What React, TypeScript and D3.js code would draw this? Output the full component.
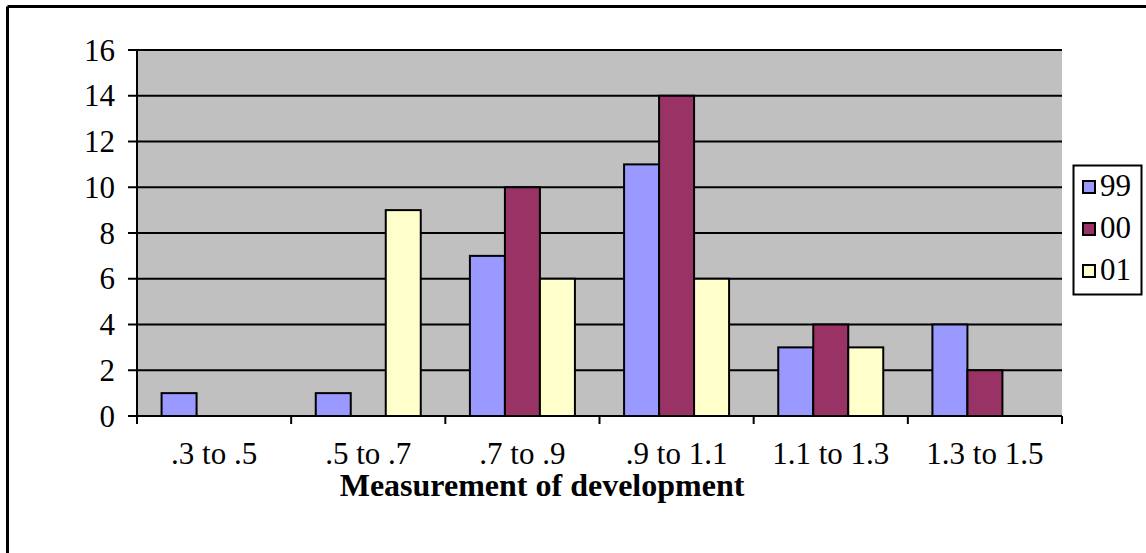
import React from "react";
import * as d3 from "d3";

const categories = [".3 to .5", ".5 to .7", ".7 to .9", ".9 to 1.1", "1.1 to 1.3", "1.3 to 1.5"];
const seriesNames = ["99", "00", "01"];
const values99 = [1, 1, 7, 11, 3, 4];
const values00 = [0, 0, 10, 14, 4, 2];
const values01 = [0, 9, 6, 6, 3, 0];
const yTicks = [0, 2, 4, 6, 8, 10, 12, 14, 16];
const colors = ["#9999FF", "#993366", "#FFFFCC"];
const xTitle = "Measurement of development";

const W = 1146;
const H = 553;
const L = 137, R = 1062, T = 50, B = 416;
const FONT = "'Liberation Serif', 'Times New Roman', serif";
const FS = 31;

export default function App() {
  const series = [values99, values00, values01];
  const x = d3.scaleBand<string>().domain(categories).range([L, R]).paddingInner(0).paddingOuter(0);
  const bw = x.bandwidth();
  const barW = 35;
  const offset = (bw - barW * 3) / 2;
  const y = d3.scaleLinear().domain([0, 16]).range([B, T]);
  const boundaries = d3.range(categories.length + 1).map((i) => L + i * bw);

  return (
    <svg width={W} height={H} style={{ position: "absolute", left: 0, top: 0, background: "#fff" }}>
      <rect x={0} y={0} width={W} height={H} fill="#fff" />
      <line x1={7.5} y1={6.5} x2={W} y2={6.5} stroke="#000" strokeWidth={3} />
      <line x1={7.5} y1={6.5} x2={7.5} y2={H} stroke="#000" strokeWidth={3} />
      <rect x={L} y={T} width={R - L} height={B - T} fill="#C0C0C0" />
      {yTicks.map((t) => (
        <line key={"g" + t} x1={L} x2={R} y1={y(t)} y2={y(t)} stroke="#000" strokeWidth={2} />
      ))}
      {series.map((vals, si) =>
        vals.map((v, ci) =>
          v > 0 ? (
            <rect
              key={si + "-" + ci}
              x={(x(categories[ci]) as number) + offset + si * barW}
              y={y(v)}
              width={barW}
              height={y(0) - y(v)}
              fill={colors[si]}
              stroke="#000"
              strokeWidth={2}
            />
          ) : null
        )
      )}
      <line x1={L} x2={L} y1={T} y2={B} stroke="#000" strokeWidth={2} />
      <line x1={L} x2={R} y1={B} y2={B} stroke="#000" strokeWidth={2} />
      {yTicks.map((t) => (
        <g key={"yt" + t}>
          <line x1={L - 9} x2={L} y1={y(t)} y2={y(t)} stroke="#000" strokeWidth={2} />
          <text x={115} y={y(t)} dy="0.34em" textAnchor="end" fontFamily={FONT} fontSize={FS} fill="#000">
            {t}
          </text>
        </g>
      ))}
      {boundaries.map((bx, i) => (
        <line key={"xt" + i} x1={bx} x2={bx} y1={B} y2={B + 8} stroke="#000" strokeWidth={2} />
      ))}
      {categories.map((c) => (
        <text
          key={"xl" + c}
          x={(x(c) as number) + bw / 2}
          y={464}
          textAnchor="middle"
          fontFamily={FONT}
          fontSize={FS}
          fill="#000"
        >
          {c}
        </text>
      ))}
      <text x={542} y={496} textAnchor="middle" fontFamily={FONT} fontSize={32} fontWeight="bold" fill="#000">
        {xTitle}
      </text>
      <rect x={1073.5} y={165.5} width={68} height={129} fill="#fff" stroke="#000" strokeWidth={2} />
      {seriesNames.map((n, i) => (
        <g key={"lg" + n}>
          <rect x={1083} y={181 + i * 42} width={12} height={12} fill={colors[i]} stroke="#000" strokeWidth={2} />
          <text x={1100} y={196 + i * 42} fontFamily={FONT} fontSize={FS} fill="#000">
            {n}
          </text>
        </g>
      ))}
    </svg>
  );
}
